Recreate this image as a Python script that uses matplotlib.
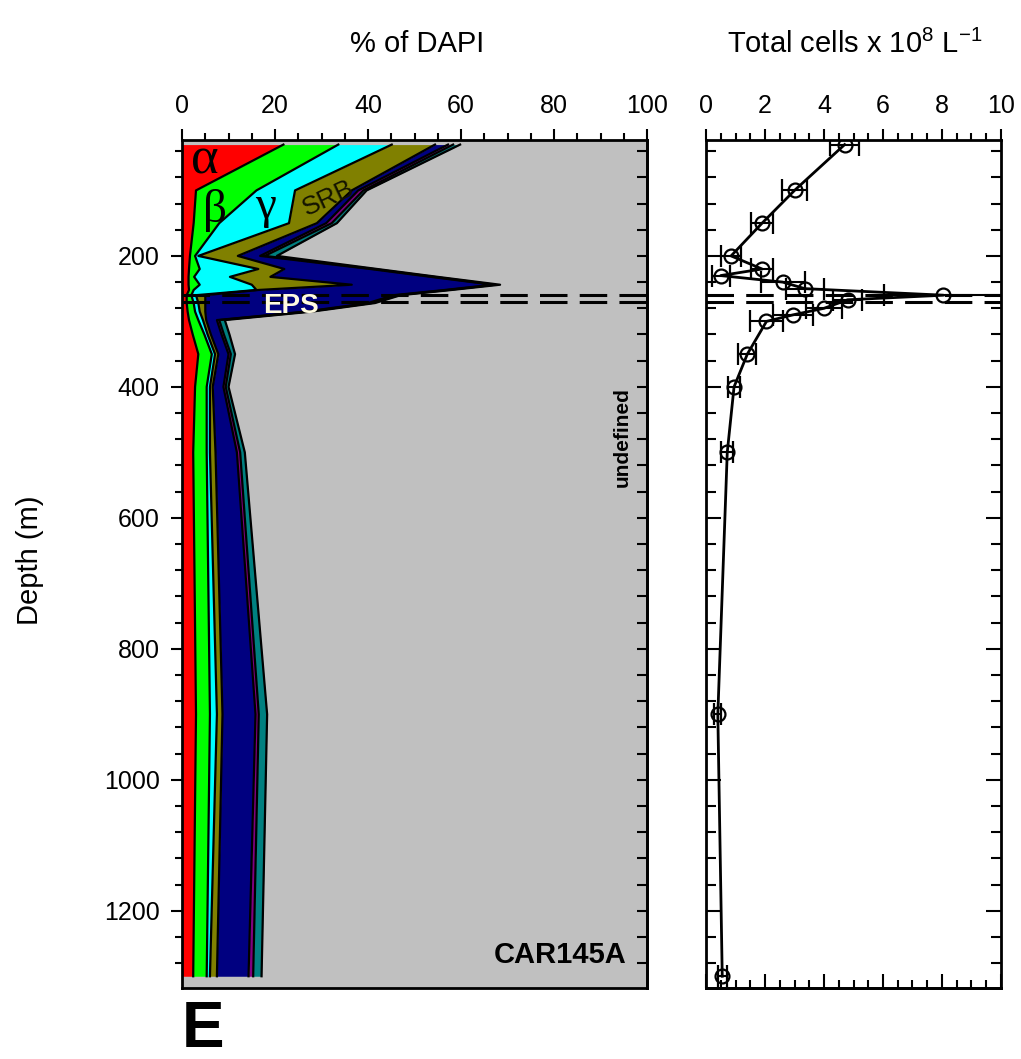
import numpy as np
import matplotlib
matplotlib.use("Agg")
import matplotlib.pyplot as plt
from matplotlib.ticker import MultipleLocator, NullFormatter

plt.rcParams['font.family'] = ['Liberation Sans', 'DejaVu Sans']
plt.rcParams['mathtext.default'] = 'regular'

# % of DAPI per group, by depth (m)
depth = [30, 100, 150, 200, 220, 232, 244, 252, 260, 272, 285, 298, 320, 350, 400, 500, 900, 1300]
alpha = [21.8, 3.0, 2.5, 1.7, 1.5, 1.4, 1.4, 1.5, 1.0, 1.0, 1.2, 1.5, 2.3, 3.5, 2.8, 2.4, 3.0, 2.4]
beta = [11.8, 13.0, 5.5, 1.1, 2.3, 1.2, 2.4, 1.0, 1.0, 1.5, 1.6, 2.0, 2.5, 2.9, 2.5, 2.9, 3.0, 2.9]
gamma = [11.5, 8.3, 15.0, 0.7, 12.6, 7.7, 11.2, 13.5, 1.0, 1.0, 1.0, 1.0, 0.7, 0.7, 0.7, 0.7, 1.5, 0.7]
srb = [9.3, 12.2, 6.0, 8.5, 5.6, 8.7, 21.5, 0.5, 2.0, 1.5, 1.2, 0.7, 0.7, 0.7, 0.6, 1.2, 1.2, 1.5]
eps = [2.8, 1.4, 2.0, 4.8, 18.5, 34.5, 30.3, 40.0, 40.5, 35.0, 21.5, 2.3, 2.3, 2.2, 2.3, 4.6, 7.1, 6.8]
cfb = [1.1, 1.1, 1.2, 1.0, 0.7, 0.7, 0.5, 0.7, 0.7, 0.7, 0.7, 0.5, 0.5, 0.5, 0.5, 0.7, 0.7, 1.0]
arch = [1.5, 0.7, 1.1, 2.6, 0.8, 0.8, 1.1, 0.8, 0.8, 0.8, 0.8, 1.2, 1.2, 0.9, 0.6, 1.0, 1.8, 1.8]
colors = ['#ff0000', '#00ff00', '#00ffff', '#808000', '#000080', '#800080', '#008080']

# total cells x 10^8 per litre
cell_depth = [30, 100, 150, 200, 220, 230, 240, 250, 260, 267, 280, 290, 300, 350, 400, 500, 900, 1300]
cells = [4.7, 3.0, 1.9, 0.85, 1.9, 0.5, 2.6, 3.35, 8.05, 4.8, 4.0, 2.95, 2.05, 1.4, 0.95, 0.72, 0.4, 0.55]
cells_err = [0.5, 0.42, 0.36, 0.33, 0.37, 0.3, 0.75, 0.65, 2.0, 0.5, 0.6, 0.68, 0.57, 0.3, 0.2, 0.2, 0.12, 0.15]

redox = [259, 270]

fig = plt.figure(figsize=(10.21, 10.59), dpi=100)
ax1 = fig.add_axes([0.1783, 0.0670, 0.4554, 0.8008])
ax2 = fig.add_axes([0.6915, 0.0670, 0.2889, 0.8008])

ax1.set_facecolor('#c0c0c0')
cum = np.cumsum(np.array([alpha, beta, gamma, srb, eps, cfb, arch]), axis=0)
lo = np.zeros(len(depth))
for hi, c in zip(cum, colors):
    ax1.fill_betweenx(depth, lo, hi, color=c, lw=0)
    lo = hi
for hi in cum:
    ax1.plot(hi, depth, color='k', lw=1.6)

ax2.errorbar(cells, cell_depth, xerr=cells_err, fmt='-o', color='k', lw=2,
             mfc='none', mec='k', ms=10, mew=1.6, capsize=8, elinewidth=1.5, capthick=1.5)

for ax in (ax1, ax2):
    for d in redox:
        ax.axhline(d, color='k', lw=2.2, dashes=(9, 4), zorder=5)
    ax.set_ylim(1318, 23)
    for s in ax.spines.values():
        s.set_linewidth(2)
    ax.xaxis.tick_top()
    ax.yaxis.set_major_locator(MultipleLocator(200))
    ax.yaxis.set_minor_locator(MultipleLocator(40))

ax1.set_xlim(0, 100)
ax1.xaxis.set_major_locator(MultipleLocator(20))
ax1.xaxis.set_minor_locator(MultipleLocator(5))
ax1.tick_params(axis='x', which='both', direction='out', top=True, bottom=False,
                labeltop=True, labelbottom=False, width=1.5, labelsize=18, pad=8)
ax1.tick_params(axis='x', which='major', length=8)
ax1.tick_params(axis='x', which='minor', length=5)
ax1.tick_params(axis='y', which='both', direction='out', left=True, right=False,
                width=1.5, labelsize=18, pad=8)
ax1.tick_params(axis='y', which='major', length=8)
ax1.tick_params(axis='y', which='minor', length=5)
ax1.set_yticks([200, 400, 600, 800, 1000, 1200])
sec = ax1.secondary_yaxis('right')
sec.yaxis.set_major_locator(MultipleLocator(40))
sec.yaxis.set_major_formatter(NullFormatter())
sec.tick_params(direction='in', length=7, width=1.5)
sec.spines['right'].set_linewidth(2)

ax2.set_xlim(0, 10)
ax2.xaxis.set_major_locator(MultipleLocator(2))
ax2.xaxis.set_minor_locator(MultipleLocator(0.5))
ax2.tick_params(axis='x', which='both', direction='out', top=True, bottom=False,
                labeltop=True, labelbottom=False, width=1.5, labelsize=18, pad=8)
ax2.tick_params(axis='x', which='major', length=8)
ax2.tick_params(axis='x', which='minor', length=5)
ax2.tick_params(axis='y', which='both', direction='in', left=True, right=True,
                labelleft=False, width=1.5)
ax2.tick_params(axis='y', which='major', length=11)
ax2.tick_params(axis='y', which='minor', length=7)
secx = ax2.secondary_xaxis('bottom')
secx.xaxis.set_major_locator(MultipleLocator(2))
secx.xaxis.set_minor_locator(MultipleLocator(0.5))
secx.xaxis.set_major_formatter(NullFormatter())
secx.tick_params(which='both', direction='in', width=1.5)
secx.tick_params(which='major', length=10)
secx.tick_params(which='minor', length=6)
secx.spines['bottom'].set_linewidth(2)

# labels inside the stacked panel
serif = ['Liberation Serif', 'DejaVu Serif']
ax1.text(5, 55, 'α', family=serif, fontsize=38, ha='center', va='center')
ax1.text(7, 130, 'β', family=serif, fontsize=34, ha='center', va='center')
ax1.text(18, 125, 'γ', family=serif, fontsize=34, ha='center', va='center')
ax1.text(31.5, 112, 'SRB', fontsize=19, ha='center', va='center', rotation=25, color='#141400')
ax1.text(23.5, 276, 'EPS', fontsize=20, fontweight='bold', ha='center', va='center',
         color='#fffbe0', zorder=6)
ax1.text(94.6, 476, 'undefined', fontsize=15, fontweight='bold', ha='center', va='center',
         rotation=90)
ax1.text(95.6, 1268, 'CAR145A', fontsize=21, fontweight='bold', ha='right', va='center')

fig.text(0.409, 0.9585, '% of DAPI', fontsize=21, ha='center', va='center')
fig.text(0.837, 0.9585, r'Total cells x 10$^{8}$ L$^{-1}$', fontsize=21, ha='center', va='center')
fig.text(0.029, 0.471, 'Depth (m)', fontsize=21, ha='center', va='center', rotation=90)
fig.text(0.199, 0.027, 'E', fontsize=46, fontweight='bold', ha='center', va='center')

fig.savefig('out.png', dpi=100)
